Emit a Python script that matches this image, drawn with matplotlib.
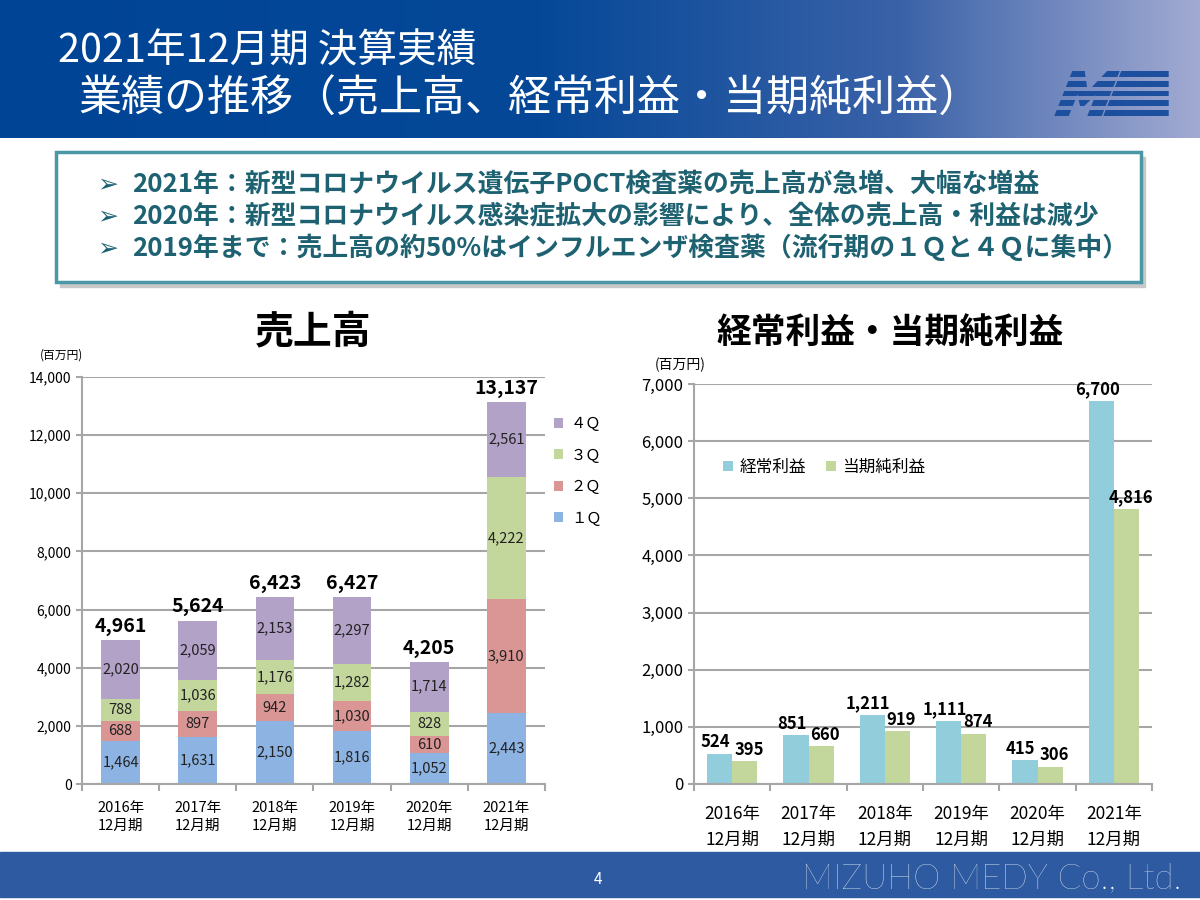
import numpy as np
import matplotlib
matplotlib.use("Agg")
import matplotlib.pyplot as plt
from matplotlib.patches import Rectangle, Polygon

plt.rcParams['font.family'] = ['Noto Sans CJK JP', 'DejaVu Sans']

# data
years = ["2016年\n12月期", "2017年\n12月期", "2018年\n12月期",
         "2019年\n12月期", "2020年\n12月期", "2021年\n12月期"]
q1 = [1464, 1631, 2150, 1816, 1052, 2443]
q2 = [688, 897, 942, 1030, 610, 3910]
q3 = [788, 1036, 1176, 1282, 828, 4222]
q4 = [2020, 2059, 2153, 2297, 1714, 2561]
sales_total = [4961, 5624, 6423, 6427, 4205, 13137]
ordinary_profit = [524, 851, 1211, 1111, 415, 6700]
net_profit = [395, 660, 919, 874, 306, 4816]

bullets = [
    "2021年：新型コロナウイルス遺伝子POCT検査薬の売上高が急増、大幅な増益",
    "2020年：新型コロナウイルス感染症拡大の影響により、全体の売上高・利益は減少",
    "2019年まで：売上高の約50%はインフルエンザ検査薬（流行期の１Ｑと４Ｑに集中）",
]

c_q1, c_q2, c_q3, c_q4 = "#8db3e2", "#d99694", "#c3d69b", "#b3a2c7"
c_ord, c_net = "#92cddc", "#c3d69b"
grid_c = "#a6a6a6"

fig = plt.figure(figsize=(12, 9), dpi=100)

# background layer in pixel coords
bg = fig.add_axes([0, 0, 1, 1], zorder=0)
bg.axis('off')

# header gradient
xs = np.linspace(0, 1, 600)
stops = [0.0, 0.45, 0.75, 1.0]
r = np.interp(xs, stops, [0x00, 0x05, 0x3a, 0xa2]) / 255
g = np.interp(xs, stops, [0x44, 0x48, 0x62, 0xaa]) / 255
b = np.interp(xs, stops, [0x96, 0x98, 0xa8, 0xd2]) / 255
grad = np.dstack([r, g, b])
bg.imshow(grad, extent=[0, 1200, 138, 0], aspect='auto', zorder=1)
bg.set_xlim(0, 1200)
bg.set_ylim(900, 0)
bg.text(58, 52, "2021年12月期 決算実績", color="white", fontsize=28.5,
        va='center', ha='left', zorder=3)
bg.text(78, 100, "業績の推移（売上高、経常利益・当期純利益）", color="white",
        fontsize=31, va='center', ha='left', zorder=3)

# ME logo: italic M and E, cut into five horizontal stripes
logo_c = "#1c4f9e"


def sk(pts, base=116, slant=0.4):
    return [(u + (base - y) * slant, y) for u, y in pts]


m_shape = sk([(1055, 116), (1068, 116), (1068, 92), (1078, 108), (1088, 92),
              (1088, 116), (1101, 116), (1101, 71), (1090, 71), (1078, 93),
              (1066, 71), (1055, 71)])
e_shape = sk([(1104, 116), (1104, 71)]) + [(1168, 71), (1168, 116)]
rows = [(71, 77), (81, 87), (91, 96), (100, 106), (110, 116)]
for y0, y1 in rows:
    clip = Rectangle((1040, y0), 140, y1 - y0, transform=bg.transData)
    for shp in (m_shape, e_shape):
        p = Polygon(shp, closed=True, color=logo_c, zorder=3)
        bg.add_patch(p)
        p.set_clip_path(clip)

# bullet box
bg.add_patch(Rectangle((60, 157), 1085, 130, color="#c8c8c8", zorder=1))
bg.add_patch(Rectangle((56, 152), 1085, 130, facecolor="white",
                       edgecolor="#4a98a6", lw=2.5, zorder=2))
for i, line in enumerate(bullets):
    y = 184 + i * 32
    bg.text(97, y, "➢", color="#1e6272", fontsize=18, va='center', ha='left',
            family=['DejaVu Sans'], zorder=3)
    bg.text(132, y, line, color="#1e6272", fontsize=18.6, fontweight='bold',
            va='center', ha='left', zorder=3)

# titles
bg.text(313, 332, "売上高", fontsize=28, fontweight='bold', ha='center', va='center')
bg.text(890, 332, "経常利益・当期純利益", fontsize=25, fontweight='bold',
        ha='center', va='center')
bg.text(40, 355, "(百万円)", fontsize=8.5, ha='left', va='center')
bg.text(655, 365, "(百万円)", fontsize=10, ha='left', va='center')

# footer
bg.add_patch(Rectangle((0, 852), 1200, 45, color="#2d5aa0", zorder=1))
bg.text(598, 879, "4", color="white", fontsize=11, ha='center', va='center', zorder=3)
bg.text(1181, 879, "MIZUHO MEDY Co., Ltd.", color="white", fontsize=25,
        ha='right', va='center', family=['Lato', 'DejaVu Sans'],
        fontweight='light', zorder=3)

x = np.arange(len(years))


def style_axes(ax, ymax, step, fs, xfs, pad, ls):
    ax.set_xlim(-0.5, len(years) - 0.5)
    ax.set_ylim(0, ymax)
    ax.set_yticks(np.arange(0, ymax + 1, step))
    ax.yaxis.set_major_formatter(matplotlib.ticker.FuncFormatter(lambda v, p: f"{int(v):,}"))
    ax.grid(axis='y', color=grid_c, lw=1.5)
    ax.set_axisbelow(True)
    for s in ['top', 'right']:
        ax.spines[s].set_visible(False)
    for s in ['left', 'bottom']:
        ax.spines[s].set_color(grid_c)
        ax.spines[s].set_linewidth(1.5)
    ax.set_xticks(x)
    ax.set_xticklabels(years, fontsize=xfs, linespacing=ls)
    ax.set_xticks(np.arange(-0.5, len(years)), minor=True)
    ax.tick_params(axis='x', which='major', length=0, pad=pad)
    ax.tick_params(axis='x', which='minor', length=5, color=grid_c, width=1.5)
    ax.tick_params(axis='y', length=4, color=grid_c, width=1.5, labelsize=fs)
    ax.patch.set_alpha(0)


# left chart: stacked sales
ax1 = fig.add_axes([82 / 1200, 116 / 900, 463 / 1200, 407 / 900], zorder=2)
style_axes(ax1, 14000, 2000, 10, 10.5, 12, 1.4)
bottom = np.zeros(len(years))
for vals, col, lab in [(q1, c_q1, "１Ｑ"), (q2, c_q2, "２Ｑ"),
                       (q3, c_q3, "３Ｑ"), (q4, c_q4, "４Ｑ")]:
    ax1.bar(x, vals, 0.5, bottom=bottom, color=col, label=lab)
    for xi, v, b0 in zip(x, vals, bottom):
        ax1.text(xi, b0 + v / 2, f"{v:,}", ha='center', va='center', fontsize=10.5,
                 color="#222222")
    bottom += np.array(vals)
for xi, t, top in zip(x, sales_total, bottom):
    ax1.annotate(f"{t:,}", (xi, top), xytext=(0, 3), textcoords='offset points',
                 ha='center', va='bottom', fontsize=14, fontweight='bold')
h, l = ax1.get_legend_handles_labels()
ax1.legend(h[::-1], l[::-1], loc='upper left', bbox_to_anchor=(0.99, 0.94),
           frameon=False, fontsize=11, handlelength=0.6, handleheight=0.6,
           labelspacing=0.95, handletextpad=0.5)

# right chart: profits
ax2 = fig.add_axes([694 / 1200, 116 / 900, 458 / 1200, 400 / 900], zorder=2)
style_axes(ax2, 7000, 1000, 12, 12.5, 15, 1.6)
w = 0.33
ax2.bar(x - w / 2, ordinary_profit, w, color=c_ord, label="経常利益")
ax2.bar(x + w / 2, net_profit, w, color=c_net, label="当期純利益")
for xi, v in zip(x, ordinary_profit):
    ax2.annotate(f"{v:,}", (xi - w / 2, v), xytext=(-3, 2), textcoords='offset points',
                 ha='center', va='bottom', fontsize=12, fontweight='bold')
for xi, v in zip(x, net_profit):
    ax2.annotate(f"{v:,}", (xi + w / 2, v), xytext=(3, 2), textcoords='offset points',
                 ha='center', va='bottom', fontsize=12, fontweight='bold')
ax2.legend(loc='upper left', bbox_to_anchor=(0.03, 0.85), ncol=2, frameon=False,
           fontsize=12, handlelength=0.6, handleheight=0.6, handletextpad=0.4,
           columnspacing=1.2)

fig.savefig("out.png", dpi=100)
